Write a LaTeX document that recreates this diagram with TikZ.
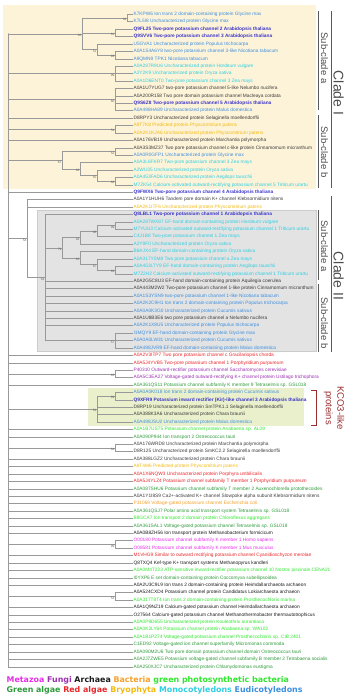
\documentclass[tikz,border=0pt]{standalone}
\usepackage{fontspec}
\setmainfont{Liberation Sans}
\newfontfamily\legendfont{DejaVu Sans}
\usepackage{xcolor}
\usepackage{tikz}

\definecolor{eudi}{HTML}{3D8FE0}
\definecolor{arab}{HTML}{3B35C8}
\definecolor{mono}{HTML}{2ECFE2}
\definecolor{othr}{HTML}{3C3C3C}
\definecolor{bryo}{HTML}{F2B90F}
\definecolor{reda}{HTML}{E8262A}
\definecolor{fung}{HTML}{9B30B0}
\definecolor{grna}{HTML}{2E9A3A}
\definecolor{gpb}{HTML}{2EE62E}
\definecolor{bact}{HTML}{F5A02A}
\definecolor{meta}{HTML}{E62EE6}
\definecolor{arch}{HTML}{1A1A1A}
\definecolor{cladeIbg}{HTML}{FDF3D9}
\definecolor{kcobg}{HTML}{E9F0CB}
\definecolor{kcored}{HTML}{9B2D30}

\begin{document}
\begin{tikzpicture}[x=1pt, y=-1pt,
    leaf/.style={anchor=west, inner sep=0.4pt, font=\fontsize{4.8}{5}\selectfont},
    boot/.style={anchor=north east, inner sep=0.4pt, text=black!60, font=\fontsize{3.2}{3.5}\selectfont},
    br/.style={draw=black!40, line width=0.45pt},
    clade/.style={rotate=-90, inner sep=0pt, text=black!70, font=\fontsize{9.5}{10}\selectfont},
    bigclade/.style={rotate=-90, inner sep=0pt, text=black!70, font=\fontsize{14}{15}\selectfont},
    bar/.style={draw=black!65, line width=0.6pt}]
    \useasboundingbox (0,0) rectangle (348,700);

    % shaded groups
    \fill[cladeIbg] (3,5) rectangle (316,189);
    \filldraw[fill=black!11, draw=black!20] (37,210) rectangle (316,351);
    \fill[kcobg] (88,388) rectangle (304,426);

    % leaves
    \node[leaf, text=eudi] (l1) at (133,14.3) {K7KPW6 Ion trans 2 domain-containing protein Glycine max};
    \node[leaf, text=eudi] (l2) at (133,21.7) {K7L5I8 Uncharacterized protein Glycine max};
    \node[leaf, text=arab] (l3) at (133,29.1) {\bfseries Q9FL25 Two-pore potassium channel 2 Arabidopsis thaliana};
    \node[leaf, text=arab] (l4) at (133,36.5) {\bfseries Q9SVV6 Two-pore potassium channel 3 Arabidopsis thaliana};
    \node[leaf, text=eudi] (l5) at (133,44.0) {U5GVA1 Uncharacterized protein Populus trichocarpa};
    \node[leaf, text=eudi] (l6) at (133,51.4) {A0A1S4A6Y8 two-pore potassium channel 3-like Nicotiana tabacum};
    \node[leaf, text=eudi] (l7) at (133,58.8) {A9QMN9 TPK1 Nicotiana tabacum};
    \node[leaf, text=mono] (l8) at (133,66.2) {A0A287R9U6 Uncharacterized protein Hordeum vulgare};
    \node[leaf, text=mono] (l9) at (133,73.6) {A2Y2K9 Uncharacterized protein Oryza sativa};
    \node[leaf, text=mono] (l10) at (133,81.0) {A0A1D6ENT0 Two-pore potassium channel 3 Zea mays};
    \node[leaf, text=othr] (l11) at (133,88.4) {A0A1U7YUG7 two-pore potassium channel 5-like Nelumbo nucifera};
    \node[leaf, text=othr] (l12) at (133,95.9) {A0A200R158 Two pore domain potassium channel Macleaya cordata};
    \node[leaf, text=arab] (l13) at (133,103.3) {\bfseries Q9S6Z8 Two-pore potassium channel 5 Arabidopsis thaliana};
    \node[leaf, text=eudi] (l14) at (133,110.7) {A0A498HA89 Uncharacterized protein Malus domestica};
    \node[leaf, text=othr] (l15) at (133,118.1) {D8RPY3 Uncharacterized protein Selaginella moellendorffii};
    \node[leaf, text=bryo] (l16) at (133,125.5) {A9T7K8 Predicted protein Physcomitrium patens};
    \node[leaf, text=bryo] (l17) at (133,132.9) {A0A2K1KJA6 Uncharacterized protein Physcomitrium patens};
    \node[leaf, text=othr] (l18) at (133,140.3) {A0A176VB19 Uncharacterized protein Marchantia polymorpha};
    \node[leaf, text=othr] (l19) at (133,147.8) {A0A3S3MZ37 Two pore potassium channel c-like protein Cinnamomum micranthum};
    \node[leaf, text=eudi] (l20) at (133,155.2) {A0A0R0GFP1 Uncharacterized protein Glycine max};
    \node[leaf, text=mono] (l21) at (133,162.6) {A0A3L6FKR7 Two-pore potassium channel 3 Zea mays};
    \node[leaf, text=mono] (l22) at (133,170.0) {A2WU35 Uncharacterized protein Oryza sativa};
    \node[leaf, text=mono] (l23) at (133,177.4) {A0A453FAD6 Uncharacterized protein Aegilops tauschii};
    \node[leaf, text=mono] (l24) at (133,184.8) {M7ZK54 Calcium-activated outward-rectifying potassium channel 5 Triticum urartu};
    \node[leaf, text=arab] (l25) at (133,192.2) {\bfseries Q9FWX6 Two-pore potassium channel 4 Arabidopsis thaliana};
    \node[leaf, text=othr] (l26) at (133,199.6) {A0A1Y1HUH6 Tandem pore domain K+ channel Klebsormidium nitens};
    \node[leaf, text=bryo] (l27) at (133,207.1) {A0A2K1ITF6 Uncharacterized protein Physcomitrium patens};
    \node[leaf, text=arab] (l28) at (133,214.5) {\bfseries Q8LBL1 Two-pore potassium channel 1 Arabidopsis thaliana};
    \node[leaf, text=mono] (l29) at (133,221.9) {A0A287WX87 EF-hand domain-containing protein Hordeum vulgare};
    \node[leaf, text=mono] (l30) at (133,229.3) {M7YUU3 Calcium-activated outward-rectifying potassium channel 1 Triticum urartu};
    \node[leaf, text=mono] (l31) at (133,236.7) {C4J1B8 Two-pore potassium channel 1 Zea mays};
    \node[leaf, text=mono] (l32) at (133,244.1) {A2Y9F0 Uncharacterized protein Oryza sativa};
    \node[leaf, text=mono] (l33) at (133,251.5) {B8AJX4 EF-hand domain-containing protein Oryza sativa};
    \node[leaf, text=mono] (l34) at (133,259.0) {A0A317Y0M8 Two pore potassium channel a Zea mays};
    \node[leaf, text=mono] (l35) at (133,266.4) {A0A453LTY9 EF-hand domain-containing protein Aegilops tauschii};
    \node[leaf, text=mono] (l36) at (133,273.8) {M7Z2H2 Calcium-activated outward-rectifying potassium channel 1 Triticum urartu};
    \node[leaf, text=othr] (l37) at (133,281.2) {A0A2G5C8U3 EF-hand domain-containing protein Aquilegia coerulea};
    \node[leaf, text=othr] (l38) at (133,288.6) {A0A443M2W2 Two-pore potassium channel 1-like protein Cinnamomum micranthum};
    \node[leaf, text=eudi] (l39) at (133,296.0) {A0A1S3YSN9 two-pore potassium channel 1-like Nicotiana tabacum};
    \node[leaf, text=eudi] (l40) at (133,303.4) {A0A2K2C9H1 Ion trans 2 domain-containing protein Populus trichocarpa};
    \node[leaf, text=eudi] (l41) at (133,310.9) {A0A0A0K3G0 Uncharacterized protein Cucumis sativus};
    \node[leaf, text=othr] (l42) at (133,318.3) {A0A1U8B3E6 two pore potassium channel a Nelumbo nucifera};
    \node[leaf, text=eudi] (l43) at (133,325.7) {A0A2K1X8U5 Uncharacterized protein Populus trichocarpa};
    \node[leaf, text=eudi] (l44) at (133,333.1) {I1MQY9 EF-hand domain-containing protein Glycine max};
    \node[leaf, text=eudi] (l45) at (133,340.5) {A0A0A0LW31 Uncharacterized protein Cucumis sativus};
    \node[leaf, text=eudi] (l46) at (133,347.9) {A0A498JVR9 EF-hand domain-containing protein Malus domestica};
    \node[leaf, text=reda] (l47) at (133,355.3) {A0A2V3ITP7 Two pore potassium channel c Gracilariopsis chorda};
    \node[leaf, text=reda] (l48) at (133,362.8) {A0A5J4YVB5 Two-pore potassium channel 1 Porphyridium purpureum};
    \node[leaf, text=fung] (l49) at (133,370.2) {P40310 Outward-rectifier potassium channel Saccharomyces cerevisiae};
    \node[leaf, text=fung] (l50) at (133,377.6) {A0A5C3EA27 Voltage-gated outward-rectifying K+ channel protein Ustilago trichophora};
    \node[leaf, text=grna] (l51) at (133,385.0) {A0A361QS11 Potassium channel subfamily K member 9 Tetraselmis sp. GSL018};
    \node[leaf, text=eudi] (l52) at (133,392.4) {A0A0A0K018 Ion trans 2 domain-containing protein Cucumis sativus};
    \node[leaf, text=arab] (l53) at (133,399.8) {\bfseries Q9XFR9 Potassium inward rectifier (Kir)-like channel 3 Arabidopsis thaliana};
    \node[leaf, text=othr] (l54) at (133,407.2) {D8RP19 Uncharacterized protein SmTPK1.1 Selaginella moellendorffii};
    \node[leaf, text=othr] (l55) at (133,414.7) {A0A388K3A6 Uncharacterized protein Chara braunii};
    \node[leaf, text=eudi] (l56) at (133,422.1) {A0A498JSU2 Uncharacterized protein Malus domestica};
    \node[leaf, text=gpb] (l57) at (133,429.5) {A0A1B7US75 Potassium channel protein Anabaena sp. AL09};
    \node[leaf, text=grna] (l58) at (133,436.9) {A0A090P944 Ion transport 2 Ostreococcus tauri};
    \node[leaf, text=othr] (l59) at (133,444.3) {A0A176WRD8 Uncharacterized protein Marchantia polymorpha};
    \node[leaf, text=othr] (l60) at (133,451.7) {D8R125 Uncharacterized protein SmKC2.2 Selaginella moellendorffii};
    \node[leaf, text=othr] (l61) at (133,459.1) {A0A388LGZ2 Uncharacterized protein Chara braunii};
    \node[leaf, text=bryo] (l62) at (133,466.6) {A9T4M6 Predicted protein Physcomitrium patens};
    \node[leaf, text=reda] (l63) at (133,474.0) {A0A1X6NQW3 Uncharacterized protein Porphyra umbilicalis};
    \node[leaf, text=reda] (l64) at (133,481.4) {A0A5J4YLZ4 Potassium channel subfamily T member 1 Porphyridium purpureum};
    \node[leaf, text=grna] (l65) at (133,488.8) {A0A087SHU6 Potassium channel subfamily T member 2 Auxenochlorella protothecoides};
    \node[leaf, text=othr] (l66) at (133,496.2) {A0A1Y1I8S9 Ca2+-activated K+ channel Slowpoke alpha subunit Klebsormidium nitens};
    \node[leaf, text=bact] (l67) at (133,503.6) {P31069 Voltage-gated potassium channel Escherichia coli};
    \node[leaf, text=grna] (l68) at (133,511.1) {A0A361QSJ7 Polar amino acid transport system Tetraselmis sp. GSL018};
    \node[leaf, text=gpb] (l69) at (133,518.5) {B8GCA7 Ion transport 2 domain protein Chloroflexus aggregans};
    \node[leaf, text=grna] (l70) at (133,525.9) {A0A361SAL1 Voltage-gated potassium channel Tetraselmis sp. GSL018};
    \node[leaf, text=arch] (l71) at (133,533.3) {A0A0B8ZH56 Ion transport protein Methanobacterium formicicum};
    \node[leaf, text=meta] (l72) at (133,540.7) {O00180 Potassium channel subfamily K member 1 Homo sapiens};
    \node[leaf, text=meta] (l73) at (133,548.1) {O08581 Potassium channel subfamily K member 1 Mus musculus};
    \node[leaf, text=reda] (l74) at (133,555.5) {M1VHG9 Similar to outward rectifying potassium channel Cyanidioschyzon merolae};
    \node[leaf, text=arch] (l75) at (133,563.0) {Q8TXQ4 Kef-type K+ transport systems Methanopyrus kandleri};
    \node[leaf, text=gpb] (l76) at (133,570.4) {A0A0M4T223 ATP-sensitive inward rectifier potassium channel 10 Nostoc piscinale CENA21};
    \node[leaf, text=grna] (l77) at (133,577.8) {I0YXP6 E set domain-containing protein Coccomyxa subellipsoidea};
    \node[leaf, text=arch] (l78) at (133,585.2) {A0A2U3C9L9 Ion trans 2 domain-containing protein Heimdallarchaeota archaeon};
    \node[leaf, text=arch] (l79) at (133,592.6) {A0A524CXD4 Potassium channel protein Candidatus Lokiarchaeota archaeon};
    \node[leaf, text=gpb] (l80) at (133,600.0) {A0A317T8T4 Ion trans 2 domain-containing protein Prosthecochloris marina};
    \node[leaf, text=arch] (l81) at (133,607.5) {A0A1Q9NZ19 Calcium-gated potassium channel Heimdallarchaeota archaeon};
    \node[leaf, text=arch] (l82) at (133,614.9) {O27564 Calcium-gated potassium channel Methanothermobacter thermautotrophicus};
    \node[leaf, text=gpb] (l83) at (133,622.3) {A0A0P9D655 Uncharacterized protein Kouleothrix aurantiaca};
    \node[leaf, text=gpb] (l84) at (133,629.7) {A0A0K2LY64 Potassium channel protein Anabaena sp. WA102};
    \node[leaf, text=gpb] (l85) at (133,637.1) {A0A1B1P274 Voltage-gated potassium channel Prosthecochloris sp. CIB 2401};
    \node[leaf, text=grna] (l86) at (133,644.5) {C1ED92 Voltage-gated ion channel superfamily Micromonas commoda};
    \node[leaf, text=grna] (l87) at (133,651.9) {A0A090M2U6 Two pore domain potassium channel domain Ostreococcus tauri};
    \node[leaf, text=grna] (l88) at (133,659.4) {A0A2J7ZWE5 Potassium voltage-gated channel subfamily B member 2 Tetrabaena socialis};
    \node[leaf, text=grna] (l89) at (133,666.8) {A0A250XJC7 Uncharacterized protein Chlamydomonas eustigma};

    % inner nodes
    \coordinate (top) at (8,33.8);
    \coordinate (a1) at (127,18.0);
    \coordinate (a2) at (115,32.8);
    \coordinate (a4) at (115,55.1);
    \coordinate (a5) at (97,49.55);
    \coordinate (a3) at (82,33.8);
    \coordinate (a6) at (115,73.6);
    \coordinate (a7) at (115,99.55);
    \coordinate (a8) at (115,129.2);
    \coordinate (b1) at (115,151.5);
    \coordinate (b2) at (115,181.1);
    \coordinate (b3) at (97,175.55);
    \coordinate (b4) at (80,169.1);
    \coordinate (b5) at (62,160.3);
    \coordinate (n1) at (115,225.6);
    \coordinate (n2) at (97,231.15);
    \coordinate (n3) at (80,237.6);
    \coordinate (m1) at (115,270.1);
    \coordinate (m2) at (97,264.55);
    \coordinate (m3) at (80,258.0);
    \coordinate (n4) at (62,247.8);
    \coordinate (k1) at (115,340.5);
    \coordinate (g) at (45,277.5);
    \coordinate (c0) at (27,238.55);
    \coordinate (p1) at (115,373.9);
    \coordinate (q1) at (115,396.1);
    \coordinate (q2) at (97,409.1);
    \coordinate (r1) at (115,448.0);
    \coordinate (s1) at (115,544.4);
    \coordinate (t1) at (115,596.3);

    % clade I
    \draw[br] (top) |- (a3);
    \draw[br] (a3) |- (a1);
    \draw[br] (a3) |- (a2);
    \draw[br] (a3) |- (a5);
    \draw[br] (a1) |- (l1.west);
    \draw[br] (a1) |- (l2.west);
    \draw[br] (a2) |- (l3.west);
    \draw[br] (a2) |- (l4.west);
    \draw[br] (a5) |- (l5.west);
    \draw[br] (a5) |- (a4);
    \draw[br] (a4) |- (l6.west);
    \draw[br] (a4) |- (l7.west);
    \draw[br] (top) |- (a6);
    \draw[br] (a6) |- (l8.west);
    \draw[br] (a6) |- (l9.west);
    \draw[br] (a6) |- (l10.west);
    \draw[br] (top) |- (a7);
    \draw[br] (a7) |- (l11.west);
    \draw[br] (a7) |- (l12.west);
    \draw[br] (a7) |- (l13.west);
    \draw[br] (a7) |- (l14.west);
    \draw[br] (top) |- (l15.west);
    \draw[br] (top) |- (a8);
    \draw[br] (a8) |- (l16.west);
    \draw[br] (a8) |- (l17.west);
    \draw[br] (top) |- (l18.west);
    \draw[br] (top) |- (b5);
    \draw[br] (b5) |- (b1);
    \draw[br] (b5) |- (b4);
    \draw[br] (b1) |- (l19.west);
    \draw[br] (b1) |- (l20.west);
    \draw[br] (b4) |- (l21.west);
    \draw[br] (b4) |- (b3);
    \draw[br] (b3) |- (l22.west);
    \draw[br] (b3) |- (b2);
    \draw[br] (b2) |- (l23.west);
    \draw[br] (b2) |- (l24.west);
    \draw[br] (top) |- (l25.west);

    % clade II
    \draw[br] (top) |- (c0);
    \draw[br] (c0) |- (l26.west);
    \draw[br] (c0) |- (l27.west);
    \draw[br] (c0) |- (g);
    \draw[br] (g) |- (l28.west);
    \draw[br] (g) |- (n4);
    \draw[br] (n4) |- (n3);
    \draw[br] (n4) |- (m3);
    \draw[br] (n3) |- (n2);
    \draw[br] (n3) |- (l32.west);
    \draw[br] (n2) |- (n1);
    \draw[br] (n2) |- (l31.west);
    \draw[br] (n1) |- (l29.west);
    \draw[br] (n1) |- (l30.west);
    \draw[br] (m3) |- (l33.west);
    \draw[br] (m3) |- (m2);
    \draw[br] (m2) |- (l34.west);
    \draw[br] (m2) |- (m1);
    \draw[br] (m1) |- (l35.west);
    \draw[br] (m1) |- (l36.west);
    \draw[br] (g) |- (l37.west);
    \draw[br] (g) |- (l38.west);
    \draw[br] (g) |- (l39.west);
    \draw[br] (g) |- (l40.west);
    \draw[br] (g) |- (l41.west);
    \draw[br] (g) |- (l42.west);
    \draw[br] (g) |- (l43.west);
    \draw[br] (g) |- (k1);
    \draw[br] (k1) |- (l44.west);
    \draw[br] (k1) |- (l45.west);
    \draw[br] (k1) |- (l46.west);

    % the rest
    \draw[br] (top) |- (l47.west);
    \draw[br] (top) |- (l48.west);
    \draw[br] (top) |- (p1);
    \draw[br] (p1) |- (l49.west);
    \draw[br] (p1) |- (l50.west);
    \draw[br] (top) |- (l51.west);
    \draw[br] (top) |- (q2);
    \draw[br] (q2) |- (q1);
    \draw[br] (q1) |- (l52.west);
    \draw[br] (q1) |- (l53.west);
    \draw[br] (q2) |- (l54.west);
    \draw[br] (q2) |- (l55.west);
    \draw[br] (q2) |- (l56.west);
    \draw[br] (top) |- (l57.west);
    \draw[br] (top) |- (l58.west);
    \draw[br] (top) |- (r1);
    \draw[br] (r1) |- (l59.west);
    \draw[br] (r1) |- (l60.west);
    \draw[br] (top) |- (l61.west);
    \draw[br] (top) |- (l62.west);
    \draw[br] (top) |- (l63.west);
    \draw[br] (top) |- (l64.west);
    \draw[br] (top) |- (l65.west);
    \draw[br] (top) |- (l66.west);
    \draw[br] (top) |- (l67.west);
    \draw[br] (top) |- (l68.west);
    \draw[br] (top) |- (l69.west);
    \draw[br] (top) |- (l70.west);
    \draw[br] (top) |- (l71.west);
    \draw[br] (top) |- (s1);
    \draw[br] (s1) |- (l72.west);
    \draw[br] (s1) |- (l73.west);
    \draw[br] (top) |- (l74.west);
    \draw[br] (top) |- (l75.west);
    \draw[br] (top) |- (l76.west);
    \draw[br] (top) |- (l77.west);
    \draw[br] (top) |- (l78.west);
    \draw[br] (top) |- (t1);
    \draw[br] (t1) |- (l79.west);
    \draw[br] (t1) |- (l80.west);
    \draw[br] (top) |- (l81.west);
    \draw[br] (top) |- (l82.west);
    \draw[br] (top) |- (l83.west);
    \draw[br] (top) |- (l84.west);
    \draw[br] (top) |- (l85.west);
    \draw[br] (top) |- (l86.west);
    \draw[br] (top) |- (l87.west);
    \draw[br] (top) |- (l88.west);
    \draw[br] (top) |- (l89.west);

    % bootstrap values
    \node[boot] (s-a1) at (a1) {94};
    \node[boot] (s-a2) at (a2) {61};
    \node[boot] (s-a3) at (a3) {86};
    \node[boot] (s-a4) at (a4) {96};
    \node[boot] (s-a5) at (a5) {51};
    \node[boot] (s-a6) at (a6) {99};
    \node[boot] (s-a7) at (a7) {60};
    \node[boot] (s-a8) at (a8) {54};
    \node[boot] (s-b1) at (b1) {52};
    \node[boot] (s-b2) at (b2) {88};
    \node[boot] (s-b3) at (b3) {55};
    \node[boot] (s-b4) at (b4) {98};
    \node[boot] (s-b5) at (b5) {87};
    \node[boot] (s-c0) at (c0) {54};
    \node[boot] (s-g) at (g) {63};
    \node[boot] (s-n1) at (n1) {99};
    \node[boot] (s-n2) at (n2) {88};
    \node[boot] (s-n3) at (n3) {92};
    \node[boot] (s-n4) at (n4) {79};
    \node[boot] (s-m1) at (m1) {99};
    \node[boot] (s-m2) at (m2) {87};
    \node[boot] (s-m3) at (m3) {83};
    \node[boot] (s-k1) at (k1) {57};
    \node[boot] (s-p1) at (p1) {93};
    \node[boot] (s-q1) at (q1) {99};
    \node[boot] (s-q2) at (q2) {54};
    \node[boot] (s-r1) at (r1) {64};
    \node[boot] (s-s1) at (s1) {99};
    \node[boot] (s-t1) at (t1) {53};

    % clade bars
    \draw[bar] (318,11) -- (318,110);
    \draw[bar] (318,115) -- (318,188);
    \draw[bar] (331,11) -- (331,188);
    \draw[bar] (318,210) -- (318,280);
    \draw[bar] (318,284) -- (318,352);
    \draw[bar] (331,196) -- (331,352);
    \node[clade] (subIa) at (324.5,58) {Sub-clade a};
    \node[clade] (subIb) at (324.5,152) {Sub-clade b};
    \node[bigclade] (cladeI) at (338.5,93) {Clade I};
    \node[clade] (subIIa) at (324.5,246) {Sub-clade a};
    \node[clade] (subIIb) at (324.5,323) {Sub-clade b};
    \node[bigclade] (cladeII) at (338.5,276) {Clade II};

    % KCO3 group
    \draw[kcored, line width=0.8pt] (311,390) -- (316,390) -- (316,425) -- (311,425);
    \node[rotate=-90, align=center, inner sep=0pt, text=kcored, font=\fontsize{9.5}{11.5}\selectfont] (kco3) at (334,408) {KCO3-like\\proteins};

    % legend
    \node[anchor=base west, inner sep=0pt, font=\legendfont\bfseries\fontsize{7.9}{9}\selectfont] (leg1) at (6.5,682)
        {\color{meta}Metazoa \color{fung}Fungi \color{arch}Archaea \color{bact}Bacteria \color{gpb}green photosynthetic bacteria};
    \node[anchor=base west, inner sep=0pt, font=\legendfont\bfseries\fontsize{7.9}{9}\selectfont] (leg2) at (6.5,692)
        {\color{grna}Green algae \color{reda}Red algae \color{bryo}Bryophyta \color{mono}Monocotyledons \color{eudi}Eudicotyledons};
\end{tikzpicture}
\end{document}
